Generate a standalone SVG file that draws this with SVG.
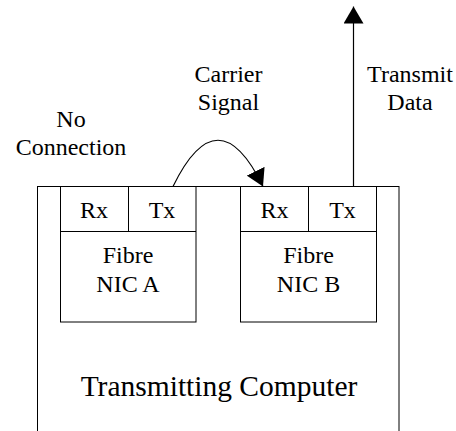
<svg xmlns="http://www.w3.org/2000/svg" width="456" height="431" viewBox="0 0 456 431">
  <style>
    .box { fill: #fff; stroke: #000; stroke-width: 1; }
    .wire { fill: none; stroke: #000; stroke-width: 1.2; }
    text { font-family: 'Liberation Serif', 'DejaVu Serif', serif; fill: #000; text-anchor: middle; }
    .lbl { font-size: 24px; }
    .big { font-size: 29.5px; }
  </style>
  <defs>
    <marker id="head" viewBox="0 0 17 20" refX="17" refY="10" markerWidth="17" markerHeight="20" markerUnits="userSpaceOnUse" orient="auto">
      <path d="M0,0 L17,10 L0,20 Z" fill="#000"/>
    </marker>
  </defs>

  <!-- host machine -->
  <g id="computer">
    <rect class="box" x="37.5" y="186.5" width="361.5" height="260"/>
    <text class="big" x="219" y="396" font-family="Liberation Serif, serif">Transmitting Computer</text>
  </g>

  <!-- first adapter -->
  <g id="nic-a">
    <rect class="box" x="60.5" y="186.5" width="135.5" height="135.5"/>
    <line class="box" x1="128.5" y1="186.5" x2="128.5" y2="231.5"/>
    <line class="box" x1="60.5" y1="231.5" x2="196" y2="231.5"/>
    <text class="lbl" x="94" y="218">Rx</text>
    <text class="lbl" x="162" y="218">Tx</text>
    <text class="lbl" x="128" y="263">Fibre</text>
    <text class="lbl" x="128" y="292">NIC A</text>
  </g>

  <!-- second adapter -->
  <g id="nic-b">
    <rect class="box" x="240.5" y="186.5" width="136" height="135.5"/>
    <line class="box" x1="308.5" y1="186.5" x2="308.5" y2="231.5"/>
    <line class="box" x1="240.5" y1="231.5" x2="376.5" y2="231.5"/>
    <text class="lbl" x="274.5" y="218">Rx</text>
    <text class="lbl" x="342.5" y="218">Tx</text>
    <text class="lbl" x="308.5" y="263">Fibre</text>
    <text class="lbl" x="308.5" y="292">NIC B</text>
  </g>

  <!-- signal paths -->
  <g id="connectors">
    <path class="wire" d="M173,186.5 Q218,94 263,186.5" marker-end="url(#head)"/>
    <line class="wire" x1="353.5" y1="186.5" x2="353.5" y2="6.5" marker-end="url(#head)"/>
  </g>

  <!-- annotations -->
  <g id="labels">
    <text class="lbl" x="71" y="127">No</text>
    <text class="lbl" x="71" y="155">Connection</text>
    <text class="lbl" x="228.5" y="82">Carrier</text>
    <text class="lbl" x="228.5" y="110">Signal</text>
    <text class="lbl" x="410" y="82">Transmit</text>
    <text class="lbl" x="410" y="110">Data</text>
  </g>
</svg>
